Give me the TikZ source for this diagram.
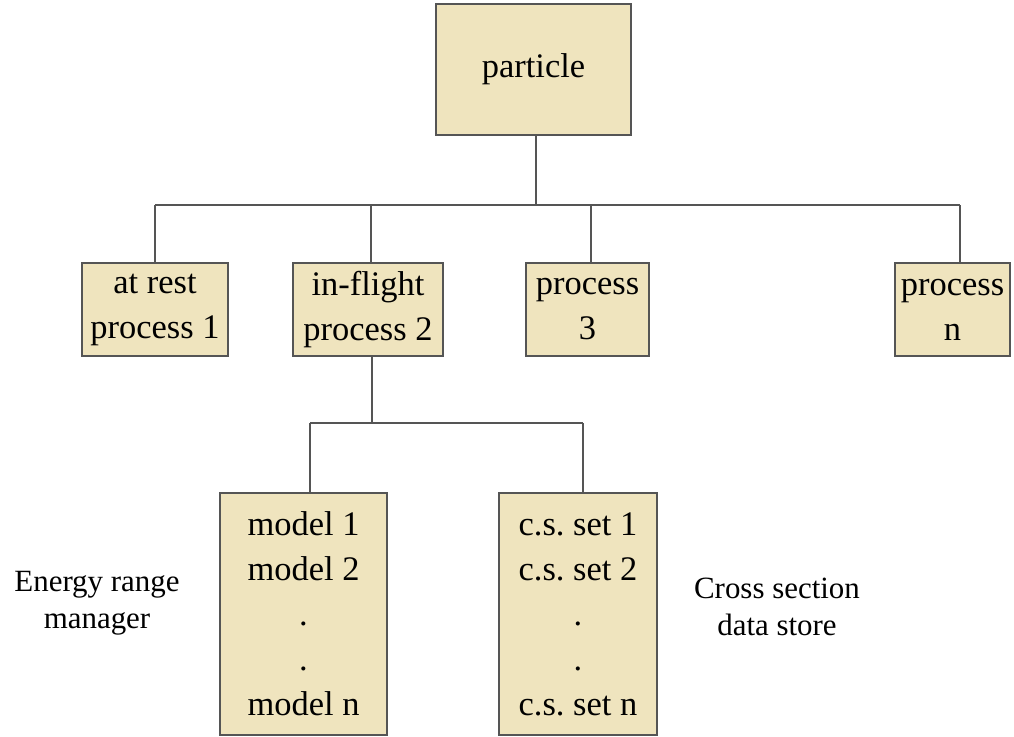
\documentclass[tikz,border=0pt]{standalone}
\usepackage{fontspec}
\setmainfont{Liberation Serif}
\usetikzlibrary{positioning,calc}
\definecolor{boxfill}{RGB}{239,228,190}
\definecolor{linegray}{RGB}{85,85,85}

\begin{document}
\begin{tikzpicture}[x=0.025cm,y=-0.025cm]
        \tikzstyle{every node}=[font=\fontsize{24.5}{32}\selectfont]
        \tikzstyle{box}=[draw=linegray,fill=boxfill,line width=0.9pt,align=center,inner sep=1pt]
        \tikzstyle{note}=[align=center,font=\fontsize{22}{26.5}\selectfont]
        \tikzstyle{wire}=[draw=linegray,line width=1pt]
        \useasboundingbox (0,0) rectangle (1014,737);

        %%% Particle
        \node[box,minimum width=4.875cm,minimum height=3.275cm] (particle) at (533.5,69.5) {particle};

        %%% Processes
        \node[box,minimum width=3.65cm,minimum height=2.325cm] (rest) at (155,309.5) {at rest\\process 1};
        \node[box,minimum width=3.75cm,minimum height=2.325cm] (flight) at (368,309.5) {in-flight\\process 2};
        \node[box,minimum width=3.075cm,minimum height=2.325cm] (proc3) at (587.5,309.5) {process\\3};
        \node[box,minimum width=2.875cm,minimum height=2.325cm] (procn) at (952.5,309.5) {process\\n};

        %%% Models and cross sections
        \node[box,minimum width=4.175cm,minimum height=6.05cm] (models) at (303.5,614) {model 1\\model 2\\.\\.\\model n};
        \node[box,minimum width=3.95cm,minimum height=6.05cm] (xsets) at (578,614) {c.s.\ set 1\\c.s.\ set 2\\.\\.\\c.s.\ set n};

        \node[note] (erm) at (97,603) {Energy range\\manager};
        \node[note] (csds) at (777,607) {Cross section\\data store};

        %%% Connectors
        \coordinate (top) at (536,205);
        \coordinate (b1) at (155,205);
        \coordinate (b2) at (371,205);
        \coordinate (b3) at (591,205);
        \coordinate (b4) at (960,205);
        \draw[wire] (particle.south -| top) -- (top);
        \draw[wire] (b1) -- (b4);
        \draw[wire] (b1) -- (rest.north -| b1);
        \draw[wire] (b2) -- (flight.north -| b2);
        \draw[wire] (b3) -- (proc3.north -| b3);
        \draw[wire] (b4) -- (procn.north -| b4);

        \coordinate (mid) at (372,423);
        \coordinate (m1) at (310,423);
        \coordinate (m2) at (583,423);
        \draw[wire] (flight.south -| mid) -- (mid);
        \draw[wire] (m1) -- (m2);
        \draw[wire] (m1) -- (models.north -| m1);
        \draw[wire] (m2) -- (xsets.north -| m2);
\end{tikzpicture}
\end{document}
